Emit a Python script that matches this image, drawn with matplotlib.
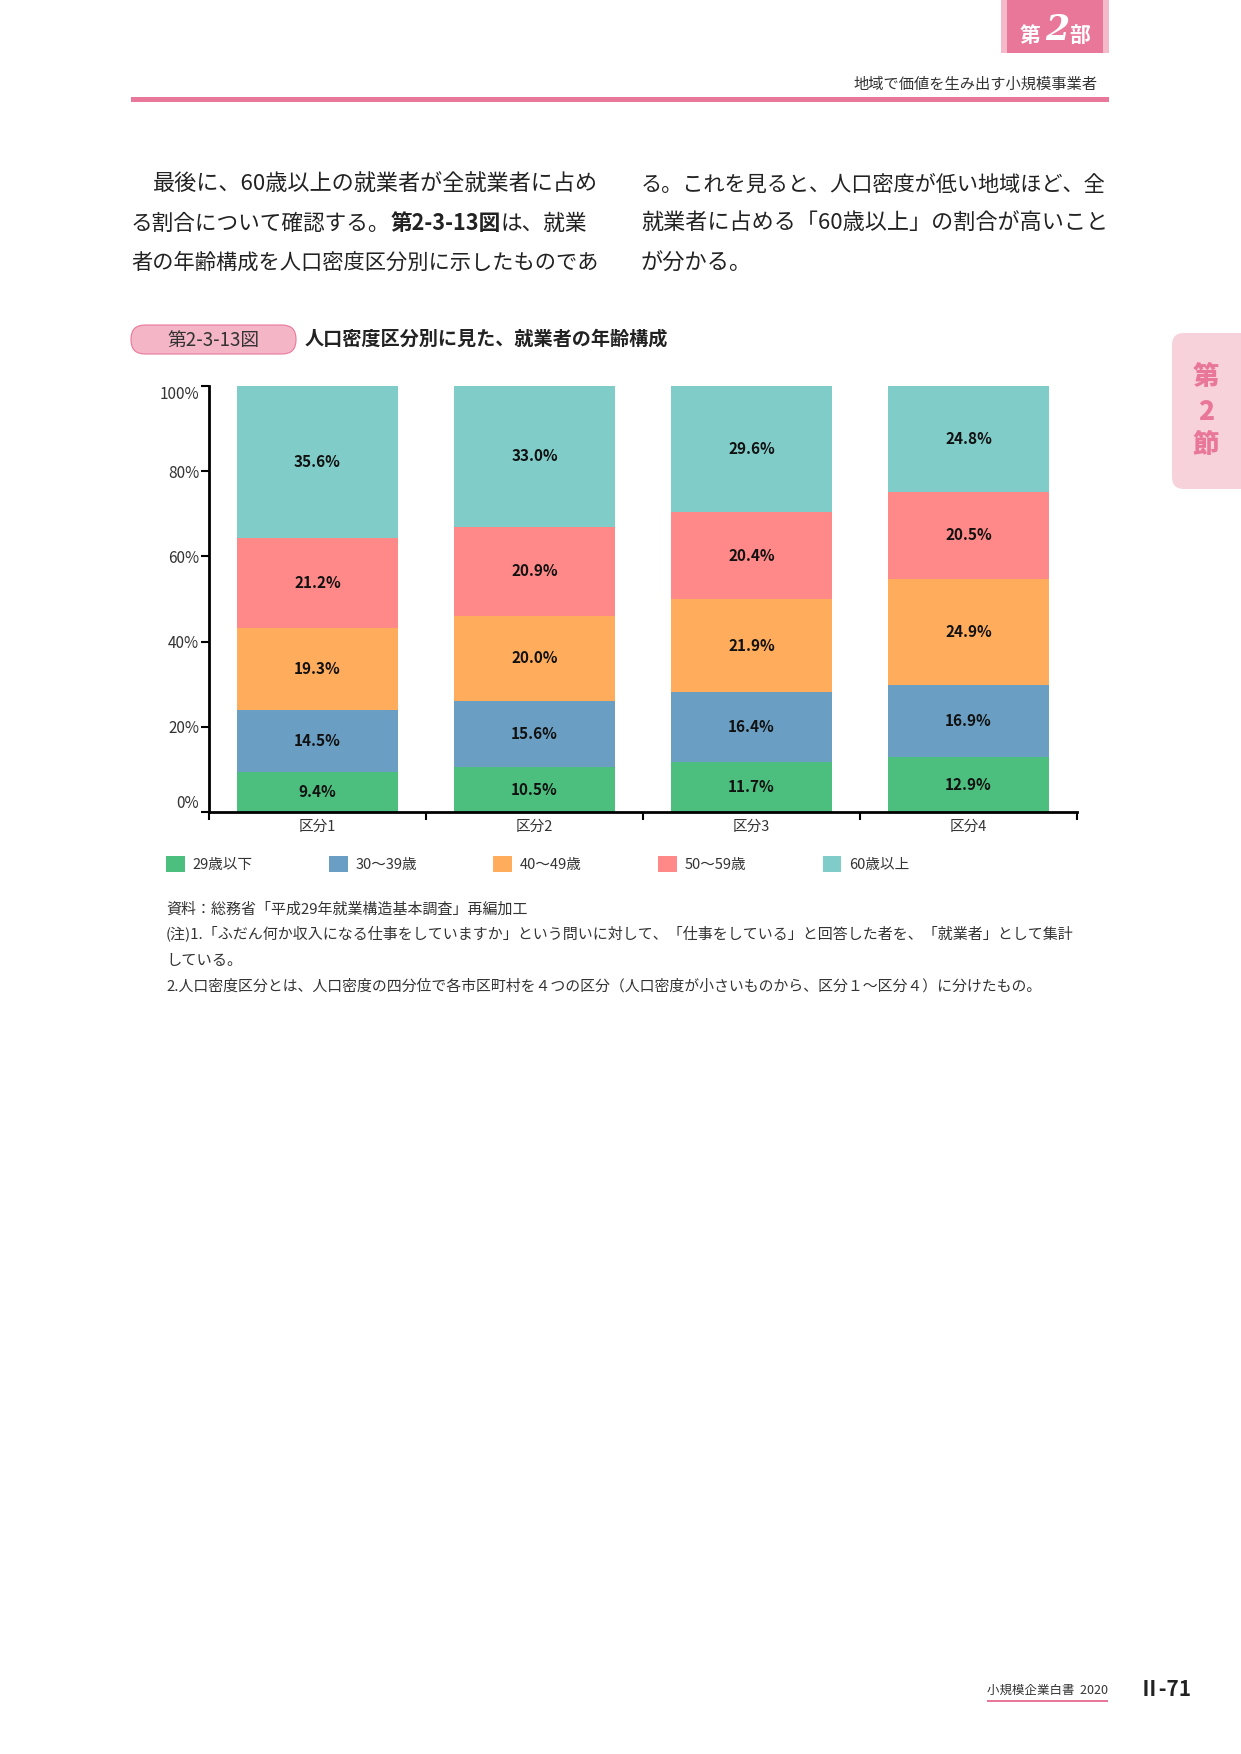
import matplotlib
matplotlib.use("Agg")
import matplotlib.pyplot as plt
from matplotlib.patches import Rectangle, FancyBboxPatch
import numpy as np

plt.rcParams['font.family'] = ['Noto Sans CJK JP', 'DejaVu Sans']

# data (%)
categories = ["区分1", "区分2", "区分3", "区分4"]
age_labels = ["29歳以下", "30〜39歳", "40〜49歳", "50〜59歳", "60歳以上"]
under29 = [9.4, 10.5, 11.7, 12.9]
age30s = [14.5, 15.6, 16.4, 16.9]
age40s = [19.3, 20.0, 21.9, 24.9]
age50s = [21.2, 20.9, 20.4, 20.5]
over60 = [35.6, 33.0, 29.6, 24.8]
y_ticks = [0, 20, 40, 60, 80, 100]

colors = ["#4CBF7E", "#6A9FC3", "#FFAD5C", "#FF8888", "#7FCCC8"]
pink = "#E9779A"

W, H = 1241, 1754
fig = plt.figure(figsize=(W / 100, H / 100), dpi=100)

# page layer in pixel coordinates
page = fig.add_axes([0, 0, 1, 1])
page.set_xlim(0, W)
page.set_ylim(H, 0)
page.axis('off')
renderer = fig.canvas.get_renderer()


def fit(x, y, s, width, size, **kw):
    t = page.text(x, y, s, fontsize=size, va='center', ha='left', **kw)
    bb = t.get_window_extent(renderer)
    t.set_fontsize(size * width / bb.width)
    return t


def runs(x, y, parts, size, **kw):
    # draw text pieces one after another
    for s, weight in parts:
        t = page.text(x, y, s, fontsize=size, va='center', ha='left', fontweight=weight, **kw)
        x += t.get_window_extent(renderer).width


# header tab
page.add_patch(Rectangle((1001, 0), 108, 53, color="#F5BACA", lw=0))
page.add_patch(Rectangle((1007, 0), 96, 53, color=pink, lw=0))
page.text(1030, 35, "第", color='white', fontsize=15, fontweight='bold', ha='center', va='center')
page.text(1057, 30, "2", color='white', fontsize=25, fontweight='bold', style='italic',
          family='DejaVu Serif', ha='center', va='center')
page.text(1080, 35, "部", color='white', fontsize=15, fontweight='bold', ha='center', va='center')
page.text(1097, 84, "地域で価値を生み出す小規模事業者", fontsize=11, color='#333', ha='right', va='center')
page.add_patch(Rectangle((131, 97), 978, 5, color=pink, lw=0))

# side tab
page.add_patch(FancyBboxPatch((1172, 333), 100, 156, boxstyle="round,pad=0,rounding_size=12",
                              color="#F8D2DB", lw=0))
for yy, ch in zip([377, 412, 445], ["第", "2", "節"]):
    page.text(1206, yy, ch, color=pink, fontsize=19, fontweight='black', ha='center', va='center')

# body text
tc = '#222'
fit(153, 185, "最後に、60歳以上の就業者が全就業者に占め", 446, 16, color=tc)
runs(131, 224, [("る割合について確認する。", 'normal'), ("第2-3-13図", 'bold'), ("は、就業", 'normal')],
     15.6, color=tc)
fit(131, 263, "者の年齢構成を人口密度区分別に示したものであ", 468, 16, color=tc)
fit(641, 185, "る。これを見ると、人口密度が低い地域ほど、全", 467, 16, color=tc)
fit(641, 224, "就業者に占める「60歳以上」の割合が高いこと", 467, 16, color=tc)
page.text(641, 263, "が分かる。", fontsize=16, color=tc, va='center')

# chart title
page.add_patch(FancyBboxPatch((131, 325), 165, 29, boxstyle="round,pad=0,rounding_size=14",
                              facecolor="#F4B6C6", edgecolor=pink, lw=0.8))
page.text(213, 340, "第2-3-13図", fontsize=13.5, color='#333', ha='center', va='center')
fit(305, 339, "人口密度区分別に見た、就業者の年齢構成", 364, 13.5, color=tc, fontweight='bold')

# chart
ax = fig.add_axes([209 / W, 1 - 812 / H, 868 / W, 426 / H])
x = np.arange(len(categories))
series = [under29, age30s, age40s, age50s, over60]
bottom = np.zeros(len(categories))
for vals, lab, c in zip(series, age_labels, colors):
    bars = ax.bar(x, vals, width=0.746, bottom=bottom, color=c, label=lab, lw=0)
    ax.bar_label(bars, labels=[f"{v:.1f}%" for v in vals], label_type='center',
                 fontsize=11, fontweight='bold', color='#111')
    bottom += np.array(vals)

ax.set_xlim(-0.5, 3.5)
ax.set_ylim(0, 100)
for s in ['top', 'right']:
    ax.spines[s].set_visible(False)
ax.spines['left'].set_linewidth(2)
ax.spines['bottom'].set_linewidth(2)
ax.set_yticks(y_ticks)
ax.set_yticklabels([f"{v}%" for v in y_ticks])
ylabs = ax.get_yticklabels()
ylabs[0].set_va('bottom')
ylabs[-1].set_va('top')
ax.tick_params(axis='y', length=6, width=1.5, pad=1, labelsize=11, labelcolor='#333')
ax.set_xticks(x)
ax.set_xticklabels(categories)
ax.set_xticks(np.arange(-0.5, 4, 1), minor=True)
ax.tick_params(axis='x', which='major', length=0, pad=6, labelsize=10.5, labelcolor='#333')
ax.tick_params(axis='x', which='minor', length=6, width=1.5)

ax.legend(ncol=5, loc='center left', bbox_to_anchor=(166 / W, 1 - 864 / H),
          bbox_transform=fig.transFigure, frameon=False, fontsize=10.5,
          handlelength=1.3, handleheight=1.3, handletextpad=0.5, columnspacing=5.25,
          borderpad=0, borderaxespad=0, labelcolor='#333')

# notes
nc = '#333'
fit(166, 910, "資料：総務省「平成29年就業構造基本調査」再編加工", 360, 11, color=nc)
fit(166, 934, "(注)1.「ふだん何か収入になる仕事をしていますか」という問いに対して、「仕事をしている」と回答した者を、「就業者」として集計",
    906, 11, color=nc)
page.text(166, 960, "している。", fontsize=11, color=nc, va='center')
fit(166, 986, "2.人口密度区分とは、人口密度の四分位で各市区町村を４つの区分（人口密度が小さいものから、区分１～区分４）に分けたもの。",
    875, 11, color=nc)

# footer
fit(987, 1690, "小規模企業白書  2020", 121, 9.5, color='#333')
page.add_patch(Rectangle((987, 1700), 121, 1.5, color=pink, lw=0))
page.text(1139, 1690, "Ⅱ-71", fontsize=15, fontweight='bold', color='#222', va='center')

fig.savefig("out.png", dpi=100)
